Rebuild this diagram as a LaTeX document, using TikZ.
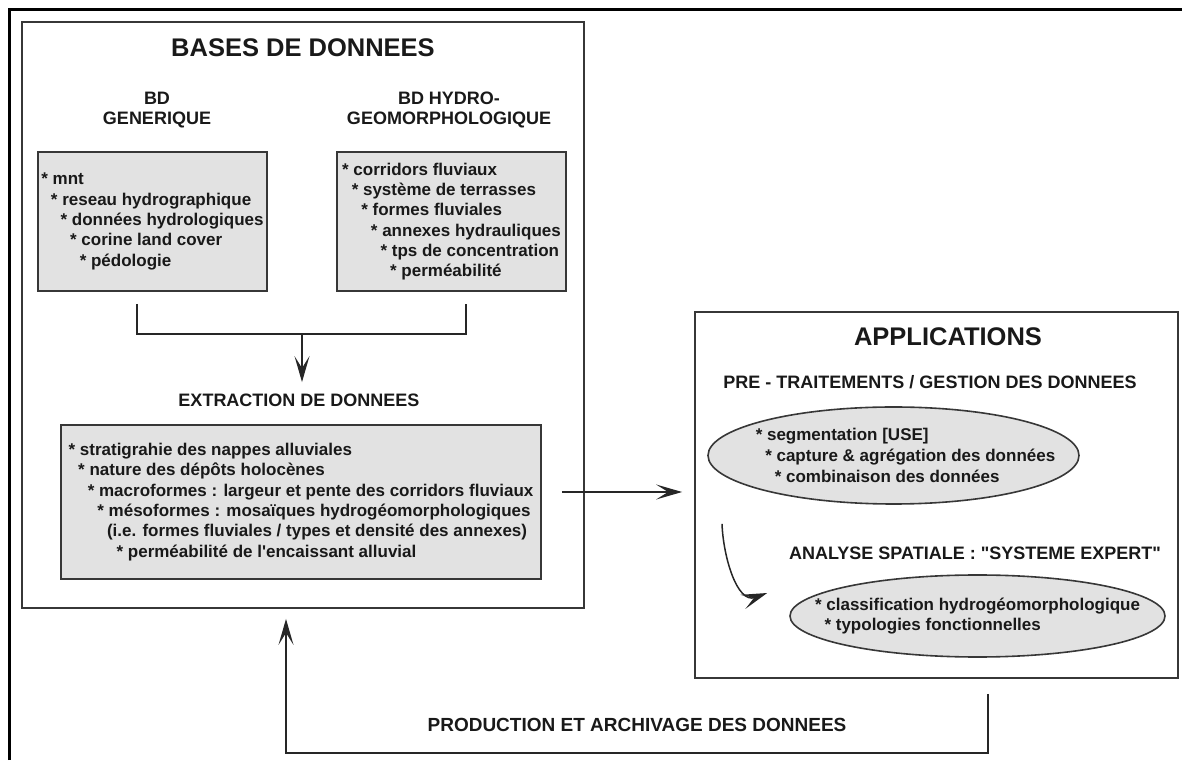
\documentclass[tikz,border=0pt]{standalone}
\usepackage{fontspec}
\setsansfont{Liberation Sans}
\usetikzlibrary{arrows.meta,shapes,calc}
\definecolor{boxGray}{RGB}{226,226,226}
\definecolor{lineGray}{RGB}{55,55,55}
\tikzset{%
  >={Stealth[length=26pt,width=15pt,inset=12pt]},
  % Specifications for style of nodes:
       bigTitle/.style = {font=\fontsize{25.5pt}{28pt}\selectfont\sffamily\bfseries},
       subTitle/.style = {align=center, font=\fontsize{18pt}{20pt}\selectfont\sffamily\bfseries},
        dbFrame/.style = {rectangle, draw=lineGray, line width=1.8pt},
        dbBlock/.style = {rectangle, draw=lineGray, line width=1.6pt, fill=boxGray,
                          align=left, font=\fontsize{17pt}{20.3pt}\selectfont\sffamily\bfseries},
      appsBlock/.style = {ellipse, draw=lineGray, line width=1.6pt, fill=boxGray,
                          inner xsep=-40pt, inner ysep=0pt, align=left,
                          font=\fontsize{17pt}{20.6pt}\selectfont\sffamily\bfseries},
           link/.style = {draw=black!85, line width=1.5pt},
}

\begin{document}
\begin{tikzpicture}[x=1pt, y=1pt, node distance=62pt,
    every node/.style={text=black!90}]
  \useasboundingbox (0,0) rectangle (1182,760);
  % Outer border (top and left edges)
  \draw[line width=3pt] (9.5,0) -- (9.5,750) -- (1182,750);

  % Specification of nodes (position, etc.)
  \node (basesTitle)     [bigTitle] at (303,712) {BASES DE DONNEES};
  \node (genericTitle)   [subTitle, below of=basesTitle, xshift=-146pt]
                         {BD\\GENERIQUE};
  \node (hydroTitle)     [subTitle, right of=genericTitle, xshift=230pt]
                         {BD HYDRO-\\GEOMORPHOLOGIQUE};
  \node (genericBlock)   [dbBlock, minimum width=229pt, minimum height=139pt,
                          below of=genericTitle, xshift=-4.5pt, yshift=-49.5pt]
                         {* mnt\\
                          \hspace*{9.6pt}* reseau hydrographique\\
                          \hspace*{19.2pt}* données hydrologiques\\
                          \hspace*{28.8pt}* corine land cover\\
                          \hspace*{38.4pt}* pédologie};
  \node (hydroBlock)     [dbBlock, minimum width=229pt, minimum height=139pt,
                          right of=genericBlock, xshift=237pt]
                         {* corridors fluviaux\\
                          \hspace*{9.6pt}* système de terrasses\\
                          \hspace*{19.2pt}* formes fluviales\\
                          \hspace*{28.8pt}* annexes hydrauliques\\
                          \hspace*{38.4pt}* tps de concentration\\
                          \hspace*{48pt}* perméabilité};
  \node (extractTitle)   [subTitle, below of=basesTitle, xshift=-4pt, yshift=-290pt]
                         {EXTRACTION DE DONNEES};
  \node (extractBlock)   [dbBlock, minimum width=480pt, minimum height=154pt,
                          below of=extractTitle, xshift=2pt, yshift=-40pt]
                         {* stratigrahie des nappes alluviales\\
                          \hspace*{9.6pt}* nature des dépôts holocènes\\
                          \hspace*{19.2pt}* macroformes : largeur et pente des corridors fluviaux\\
                          \hspace*{28.8pt}* mésoformes : mosaïques hydrogéomorphologiques\\
                          \hspace*{38.4pt}(i.e. formes fluviales / types et densité des annexes)\\
                          \hspace*{48pt}* perméabilité de l\textquotesingle encaissant alluvial};
  \node (basesFrame)     [dbFrame, minimum width=562pt, minimum height=586pt,
                          below of=basesTitle, yshift=-205pt] {};

  \node (appsFrame)      [dbFrame, minimum width=483pt, minimum height=366pt,
                          right of=extractBlock, xshift=573.5pt, yshift=7pt] {};
  \node (appsTitle)      [bigTitle, above of=appsFrame, xshift=11.5pt, yshift=96pt]
                         {APPLICATIONS};
  \node (preTitle)       [subTitle, below of=appsTitle, xshift=-18pt, yshift=17pt]
                         {PRE - TRAITEMENTS / GESTION DES DONNEES};
  \node (preEllipse)     [appsBlock, minimum width=371pt, minimum height=97pt,
                          below of=preTitle, xshift=-36.5pt, yshift=-11.5pt]
                         {\hspace*{24pt}* segmentation [USE]\\
                          \hspace*{33.5pt}* capture \& agrégation des données\\
                          \hspace*{43pt}* combinaison des données};
  \node (analyseTitle)   [subTitle, below of=preEllipse, xshift=81.5pt, yshift=-35.5pt]
                         {ANALYSE SPATIALE : \textquotedbl SYSTEME EXPERT\textquotedbl};
  \node (analyseEllipse) [appsBlock, minimum width=375pt, minimum height=82pt,
                          below of=analyseTitle, xshift=2.5pt, yshift=-1pt]
                         {* classification hydrogéomorphologique\\
                          \hspace*{9.5pt}* typologies fonctionnelles};

  \node (feedbackLabel)  [subTitle, font=\fontsize{19pt}{21pt}\selectfont\sffamily\bfseries,
                          below of=appsFrame, xshift=-299.5pt, yshift=-168pt]
                         {PRODUCTION ET ARCHIVAGE DES DONNEES};

  % Specification of lines between nodes specified above
  \coordinate (mergePoint) at ($(genericBlock.south)!0.5!(hydroBlock.south) + (0,-42)$);
  \coordinate (extractOut) at ([xshift=20pt,yshift=10pt]extractBlock.east);

  \draw[link]      ([xshift=-15.5pt,yshift=-12pt]genericBlock.south) -- ++(0,-30)
                   -| ([xshift=14.5pt,yshift=-12pt]hydroBlock.south);
  \draw[link, ->, shorten >=8pt] (mergePoint) -- (mergePoint |- extractTitle.north);

  \draw[link, ->, shorten >=12pt] (extractOut) -- (extractOut -| appsFrame.west);

  \draw[link, ->]  ([xshift=-171.5pt,yshift=-19pt]preEllipse.south)
                   to[out=-88, in=200] ([xshift=-22pt,yshift=23pt]analyseEllipse.west);

  \draw[link, ->]  ([xshift=51.5pt,yshift=-15pt]appsFrame.south) -- ++(0,-59)
                   -| ([xshift=-17pt,yshift=-10pt]basesFrame.south);
\end{tikzpicture}
\end{document}
